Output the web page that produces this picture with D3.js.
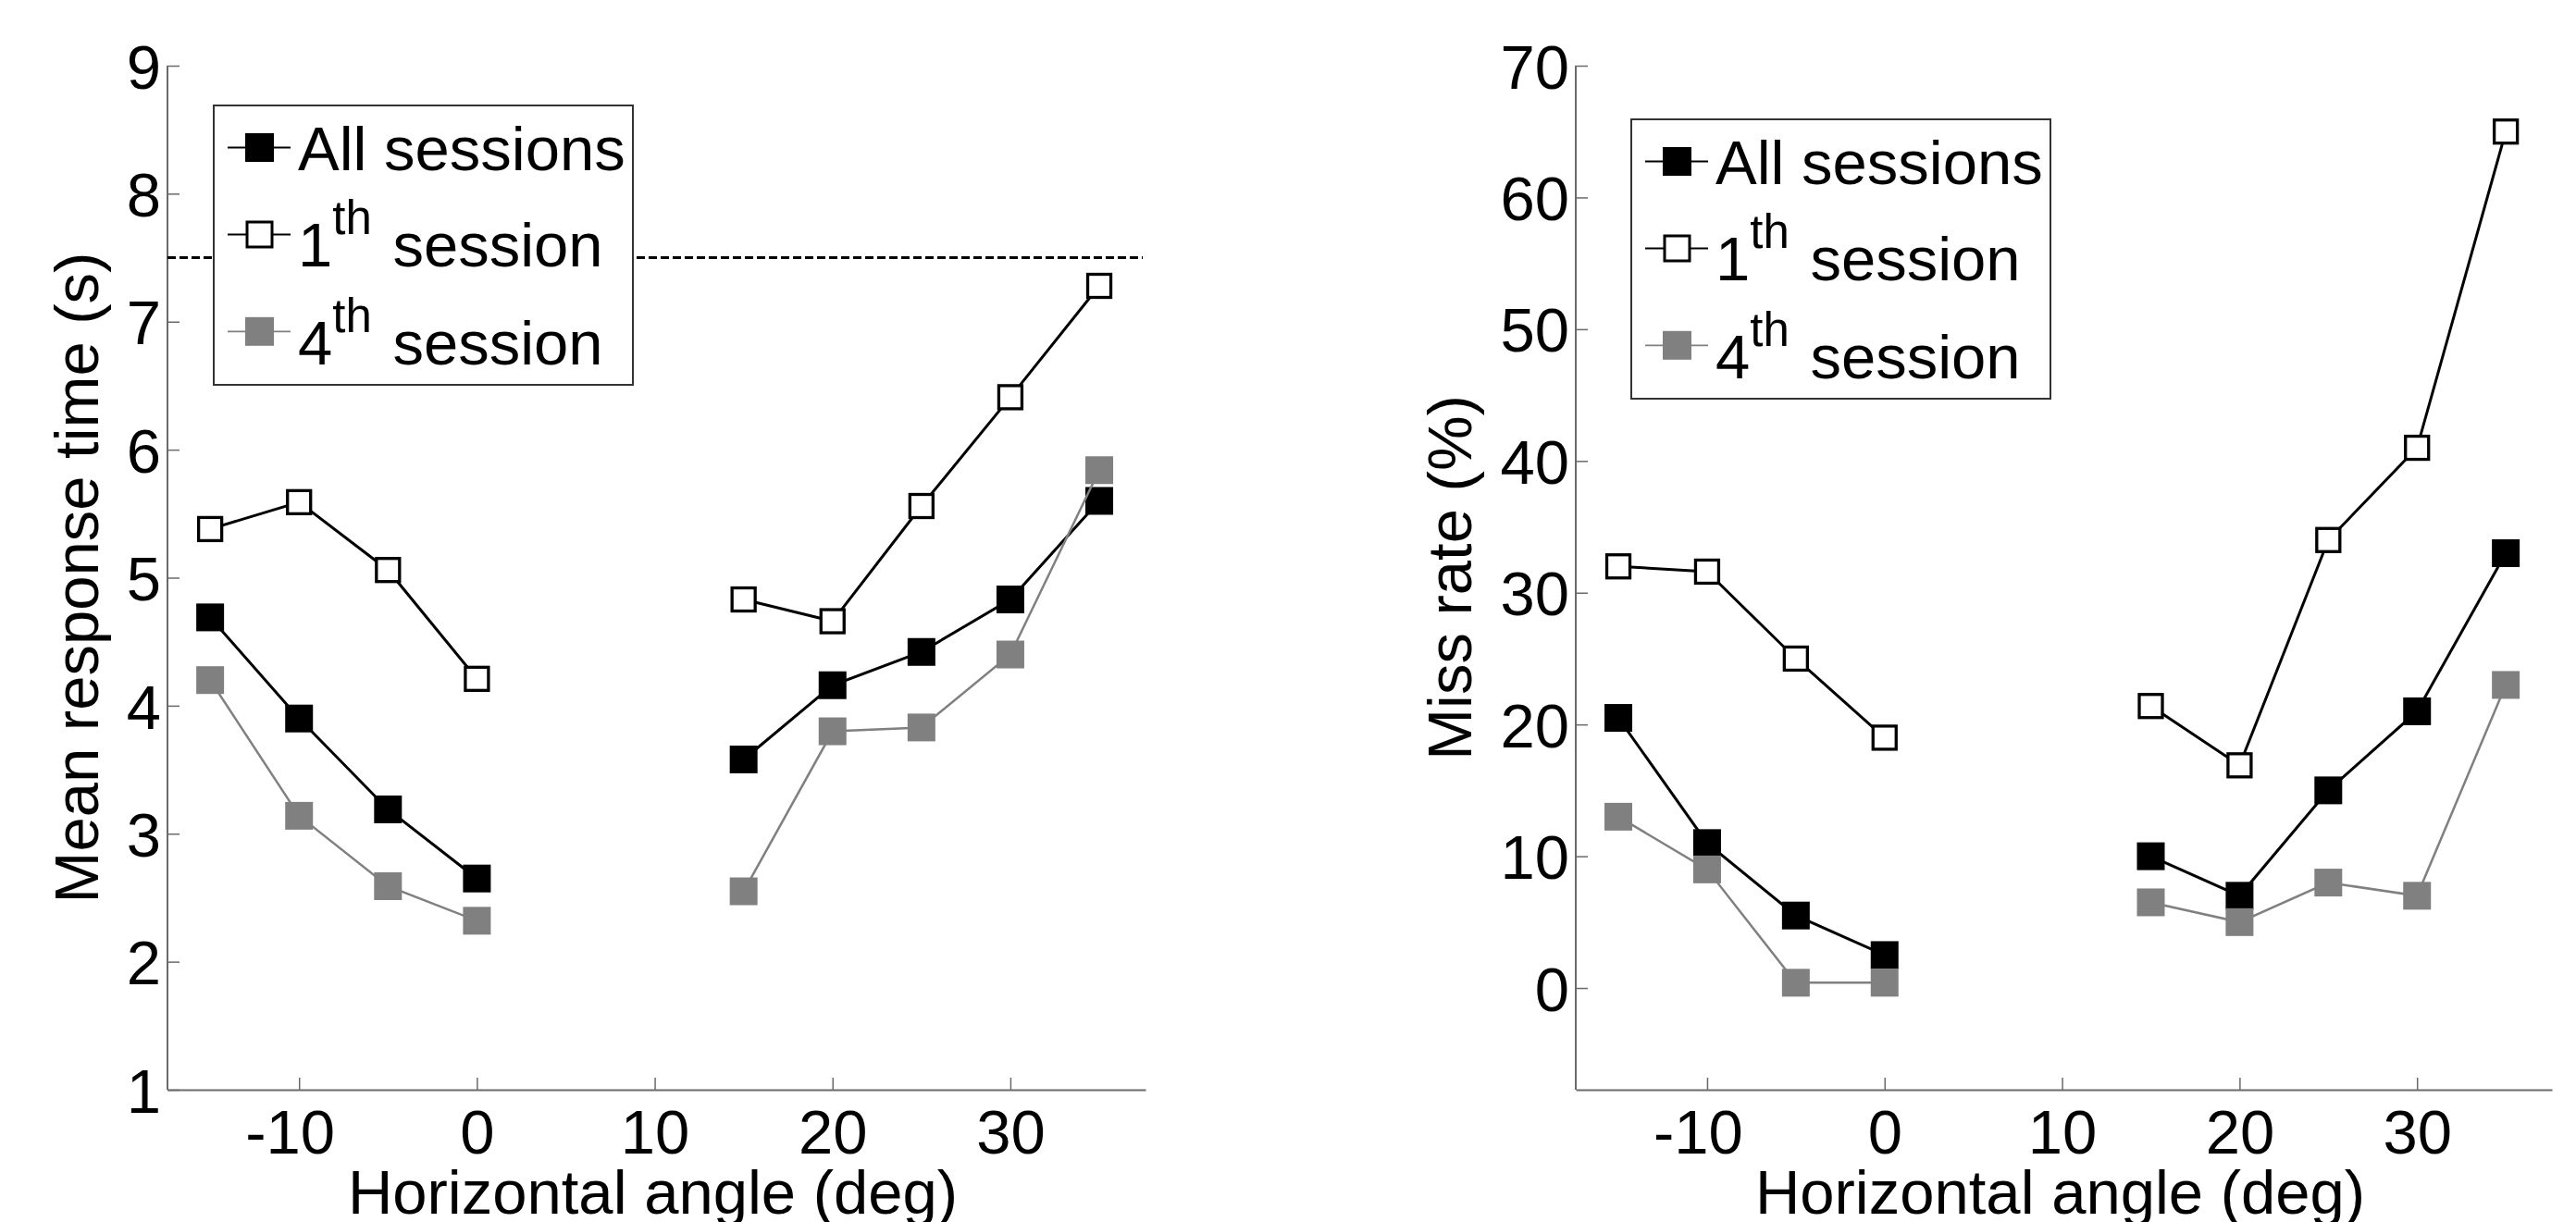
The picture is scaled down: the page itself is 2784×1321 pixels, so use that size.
<!DOCTYPE html>
<html lang="en">
<head>
<meta charset="UTF-8">
<title>Response time and miss rate by horizontal angle</title>
<script src="https://cdnjs.cloudflare.com/ajax/libs/d3/7.8.5/d3.min.js"></script>
<style>
    body { margin: 0; background: #fff; }
    svg { display: block; font-family: "Liberation Sans", Arial, sans-serif; }
    .axis path, .axis line { stroke: #6a6a6a; }
    .axis text { fill: #000; font-size: 67px; font-family: "Liberation Sans", Arial, sans-serif; }
</style>
</head>
<body>
<svg id="chart" width="2784" height="1321"></svg>
<script>
// horizontal angle (deg) of each measurement
const angles = [-15, -10, -5, 0, 15, 20, 25, 30, 35];

// mean response time (s)
const rtAll    = [4.69, 3.90, 3.19, 2.65, 3.58, 4.16, 4.42, 4.83, 5.60];
const rtFirst  = [5.38, 5.59, 5.06, 4.21, 4.83, 4.66, 5.56, 6.41, 7.28];
const rtFourth = [4.20, 3.14, 2.59, 2.32, 2.55, 3.80, 3.83, 4.40, 5.84];

// miss rate (%)
const missAll    = [20.5, 11.0, 5.5, 2.5, 10.0, 7.0, 15.0, 21.0, 33.0];
const missFirst  = [32.0, 31.6, 25.0, 19.0, 21.4, 16.9, 34.0, 41.0, 65.0];
const missFourth = [13.0, 9.0, 0.4, 0.4, 6.5, 5.0, 8.0, 7.0, 23.0];

const xTicks = [-10, 0, 10, 20, 30];
const rtTicks = [1, 2, 3, 4, 5, 6, 7, 8, 9];
const missTicks = [0, 10, 20, 30, 40, 50, 60, 70];
const rtLimit = 7.5;  // dashed reference line

const legendMain = ["All sessions", "1", "4"];
const legendSup  = [null, "th", "th"];
const legendTail = [null, " session", " session"];

const svg = d3.select("#chart");

const seriesStyle = [
    {fill: "#000", stroke: "#000", width: 3, outline: false},
    {fill: "#fff", stroke: "#000", width: 3, outline: true},
    {fill: "#808080", stroke: "#808080", width: 2.5, outline: false}
];

function drawPanel(p) {
    const x = d3.scaleLinear().domain([-17.4, 37.6]).range([p.left, p.right]);
    const y = d3.scaleLinear().domain(p.yDomain).range([p.bottom, p.top]);
    const g = svg.append("g");

    // axes, ticks pointing inward; plain hyphen for negatives like the original
    g.append("g")
        .attr("class", "axis")
        .attr("transform", `translate(0,${p.bottom})`)
        .call(d3.axisBottom(x).tickValues(xTicks).tickFormat(d => String(d))
            .tickSize(-13).tickSizeOuter(0).tickPadding(21))
        .call(a => a.select(".domain").attr("stroke-width", 2))
        .call(a => a.selectAll(".tick line").attr("stroke", "#333").attr("stroke-width", 1.5))
        .call(a => a.selectAll(".tick text").attr("dx", d => d < 0 ? -10 : 0));

    g.append("g")
        .attr("class", "axis")
        .attr("transform", `translate(${p.left},0)`)
        .call(d3.axisLeft(y).tickValues(p.yTicks).tickFormat(d => String(d))
            .tickSize(-13).tickSizeOuter(0).tickPadding(7))
        .call(a => a.select(".domain").attr("d", `M0,${p.top}V${p.bottom}`).attr("stroke-width", 2))
        .call(a => a.selectAll(".tick line").attr("stroke", "#333").attr("stroke-width", 1.5))
        .call(a => a.selectAll(".tick text").attr("dy", "0.36em"));

    // axis titles
    g.append("text")
        .attr("x", (p.left + p.right) / 2 - 4)
        .attr("y", 1312)
        .attr("text-anchor", "middle")
        .attr("font-size", 67)
        .text("Horizontal angle (deg)");

    g.append("text")
        .attr("transform", `translate(${p.labelX},${(p.top + p.bottom) / 2}) rotate(-90)`)
        .attr("text-anchor", "middle")
        .attr("font-size", 67)
        .text(p.yLabel);

    if (p.refLine != null) {
        g.append("line")
            .attr("x1", x.range()[0]).attr("x2", x.range()[1] - 3)
            .attr("y1", y(p.refLine)).attr("y2", y(p.refLine))
            .attr("stroke", "#000").attr("stroke-width", 3)
            .attr("stroke-dasharray", "9,4");
    }

    // series: two separate runs, left and right of the gap
    const line = d3.line().x(d => x(d.a)).y(d => y(d.v));
    p.series.forEach((vals, i) => {
        const st = seriesStyle[i];
        const pts = angles.map((a, j) => ({a: a, v: vals[j]}));
        const runs = [pts.filter(d => d.a <= 0), pts.filter(d => d.a > 0)];
        g.selectAll(null).data(runs).enter().append("path")
            .attr("d", line)
            .attr("fill", "none")
            .attr("stroke", st.stroke)
            .attr("stroke-width", st.width);
        const s = st.outline ? 25 : 30;
        g.selectAll(null).data(pts).enter().append("rect")
            .attr("x", d => x(d.a) - s / 2)
            .attr("y", d => y(d.v) - s / 2)
            .attr("width", s).attr("height", s)
            .attr("fill", st.fill)
            .attr("stroke", st.outline ? st.stroke : "none")
            .attr("stroke-width", 3.3);
    });

    // legend
    const lg = g.append("g").attr("transform", `translate(${p.legendX},${p.legendY})`);
    lg.append("rect")
        .attr("width", 453).attr("height", 302)
        .attr("fill", "#fff").attr("stroke", "#333").attr("stroke-width", 2);
    const markY = [45.5, 139.5, 244.3];
    const baseY = [69.5, 174.3, 280];
    seriesStyle.forEach((st, i) => {
        lg.append("line")
            .attr("x1", 15).attr("x2", 83)
            .attr("y1", markY[i]).attr("y2", markY[i])
            .attr("stroke", st.stroke).attr("stroke-width", st.width - 0.8);
        const s = st.outline ? 27 : 31;
        lg.append("rect")
            .attr("x", 49.5 - s / 2).attr("y", markY[i] - s / 2)
            .attr("width", s).attr("height", s)
            .attr("fill", st.fill)
            .attr("stroke", st.outline ? st.stroke : "none")
            .attr("stroke-width", 3);
        const t = lg.append("text")
            .attr("x", 91).attr("y", baseY[i])
            .attr("font-size", 67)
            .text(legendMain[i]);
        if (legendSup[i]) {
            t.append("tspan").attr("dy", -35).attr("font-size", 51).text(legendSup[i]);
            t.append("tspan").attr("dy", 35).attr("dx", 4).attr("font-size", 67)
                .attr("xml:space", "preserve").text(legendTail[i]);
        }
    });
}

drawPanel({
    left: 181, right: 1238, top: 71, bottom: 1178,
    yDomain: [1, 9], yTicks: rtTicks, labelX: 106,
    yLabel: "Mean response time (s)", refLine: rtLimit,
    series: [rtAll, rtFirst, rtFourth],
    legendX: 231, legendY: 114
});

drawPanel({
    left: 1703, right: 2758, top: 71, bottom: 1178,
    yDomain: [-7.72, 70], yTicks: missTicks, labelX: 1590,
    yLabel: "Miss rate (%)", refLine: null,
    series: [missAll, missFirst, missFourth],
    legendX: 1763, legendY: 129
});
</script>
</body>
</html>
